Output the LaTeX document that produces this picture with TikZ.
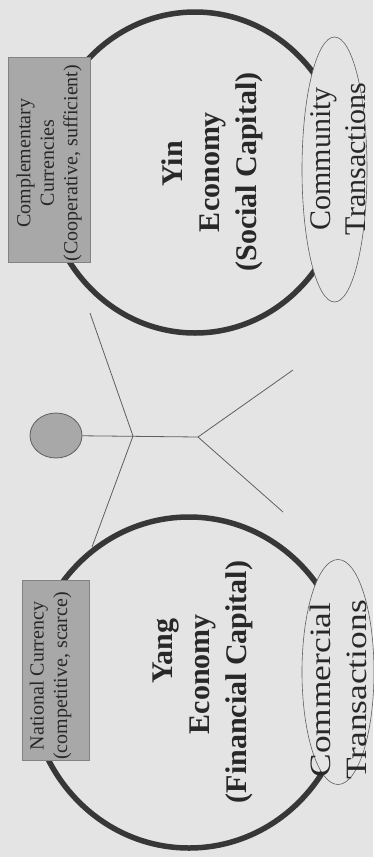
\documentclass[tikz,border=0pt]{standalone}
\usepackage{fontspec}
\setmainfont{Liberation Serif}
\newfontfamily\widefont[FakeStretch=1.2]{Liberation Serif}
\usetikzlibrary{shapes.geometric}
\definecolor{paper}{RGB}{228,228,228}
\definecolor{boxgray}{RGB}{168,168,168}
\definecolor{boxedge}{RGB}{130,130,130}
\definecolor{ink}{RGB}{40,40,40}
\definecolor{rim}{RGB}{55,55,55}
\definecolor{limb}{RGB}{95,95,95}
\begin{document}
\begin{tikzpicture}[x=1pt,y=-1pt,
  economy/.style={draw=rim, line width=5.5pt, ellipse, inner sep=0pt},
  currency/.style={draw=boxedge, line width=0.6pt, fill=boxgray, rectangle, inner sep=0pt},
  trade/.style={draw=limb, line width=0.6pt, fill=paper, ellipse, inner sep=0pt},
  label/.style={rotate=90, align=center, text=ink, inner sep=0pt},
  bigbold/.style={font=\fontsize{30}{37}\selectfont\bfseries},
  bigplain/.style={font=\fontsize{30}{35}\selectfont},
  widetext/.style={font=\fontsize{29.5}{36}\widefont},
  small/.style={font=\fontsize{20}{23.5}\selectfont},
  limbline/.style={draw=limb, line width=0.8pt}
]
% page
\fill[paper] (0,0) rectangle (373,857);
\useasboundingbox (0,0) rectangle (373,857);

% the two economies
\node[economy, minimum width=302pt, minimum height=321pt] (yin) at (195,172.5) {};
\node[economy, minimum width=318pt, minimum height=331pt] (yang) at (189,682.5) {};

% currency boxes
\node[currency, minimum width=82pt, minimum height=205pt] (comp) at (49,159.5) {};
\node[label, small] (comptext) at (49,163) {Complementary\\Currencies\\(Cooperative, sufficient)};
\node[currency, minimum width=67pt, minimum height=180pt] (natl) at (55.5,670) {};
\node[label, small] (natltext) at (50.5,676) {National Currency\\(competitive, scarce)};

% transaction ellipses
\node[trade, minimum width=65pt, minimum height=265pt] (comm) at (334.5,169.5) {};
\node[label, bigplain] (commtext) at (338,159) {Community\\Transactions};
\node[trade, minimum width=72pt, minimum height=225pt] (merc) at (338,672) {};
\node[label, widetext] (merctext) at (338,690) {Commercial\\Transactions};

% economy titles
\node[label, bigbold] (yintext) at (212,172) {\hspace*{16pt}Yin\\Economy\\(Social Capital)};
\node[label, bigbold] (yangtext) at (203,682) {\hspace*{62pt}Yang\\\hspace*{16pt}Economy\\(Financial Capital)};

% stick figure between them
\node[ellipse, draw=limb, line width=0.8pt, fill=boxgray, minimum width=52pt, minimum height=45pt, inner sep=0pt] (head) at (56,435.5) {};
\coordinate (neck) at (133,436);
\coordinate (hip) at (198,437);
\coordinate (handup) at (90,313);
\coordinate (handdown) at (92,547);
\coordinate (footup) at (293,370);
\coordinate (footdown) at (283,512);
\draw[limbline] (head) -- (hip);
\draw[limbline] (neck) -- (handup);
\draw[limbline] (neck) -- (handdown);
\draw[limbline] (hip) -- (footup);
\draw[limbline] (hip) -- (footdown);
\end{tikzpicture}
\end{document}
